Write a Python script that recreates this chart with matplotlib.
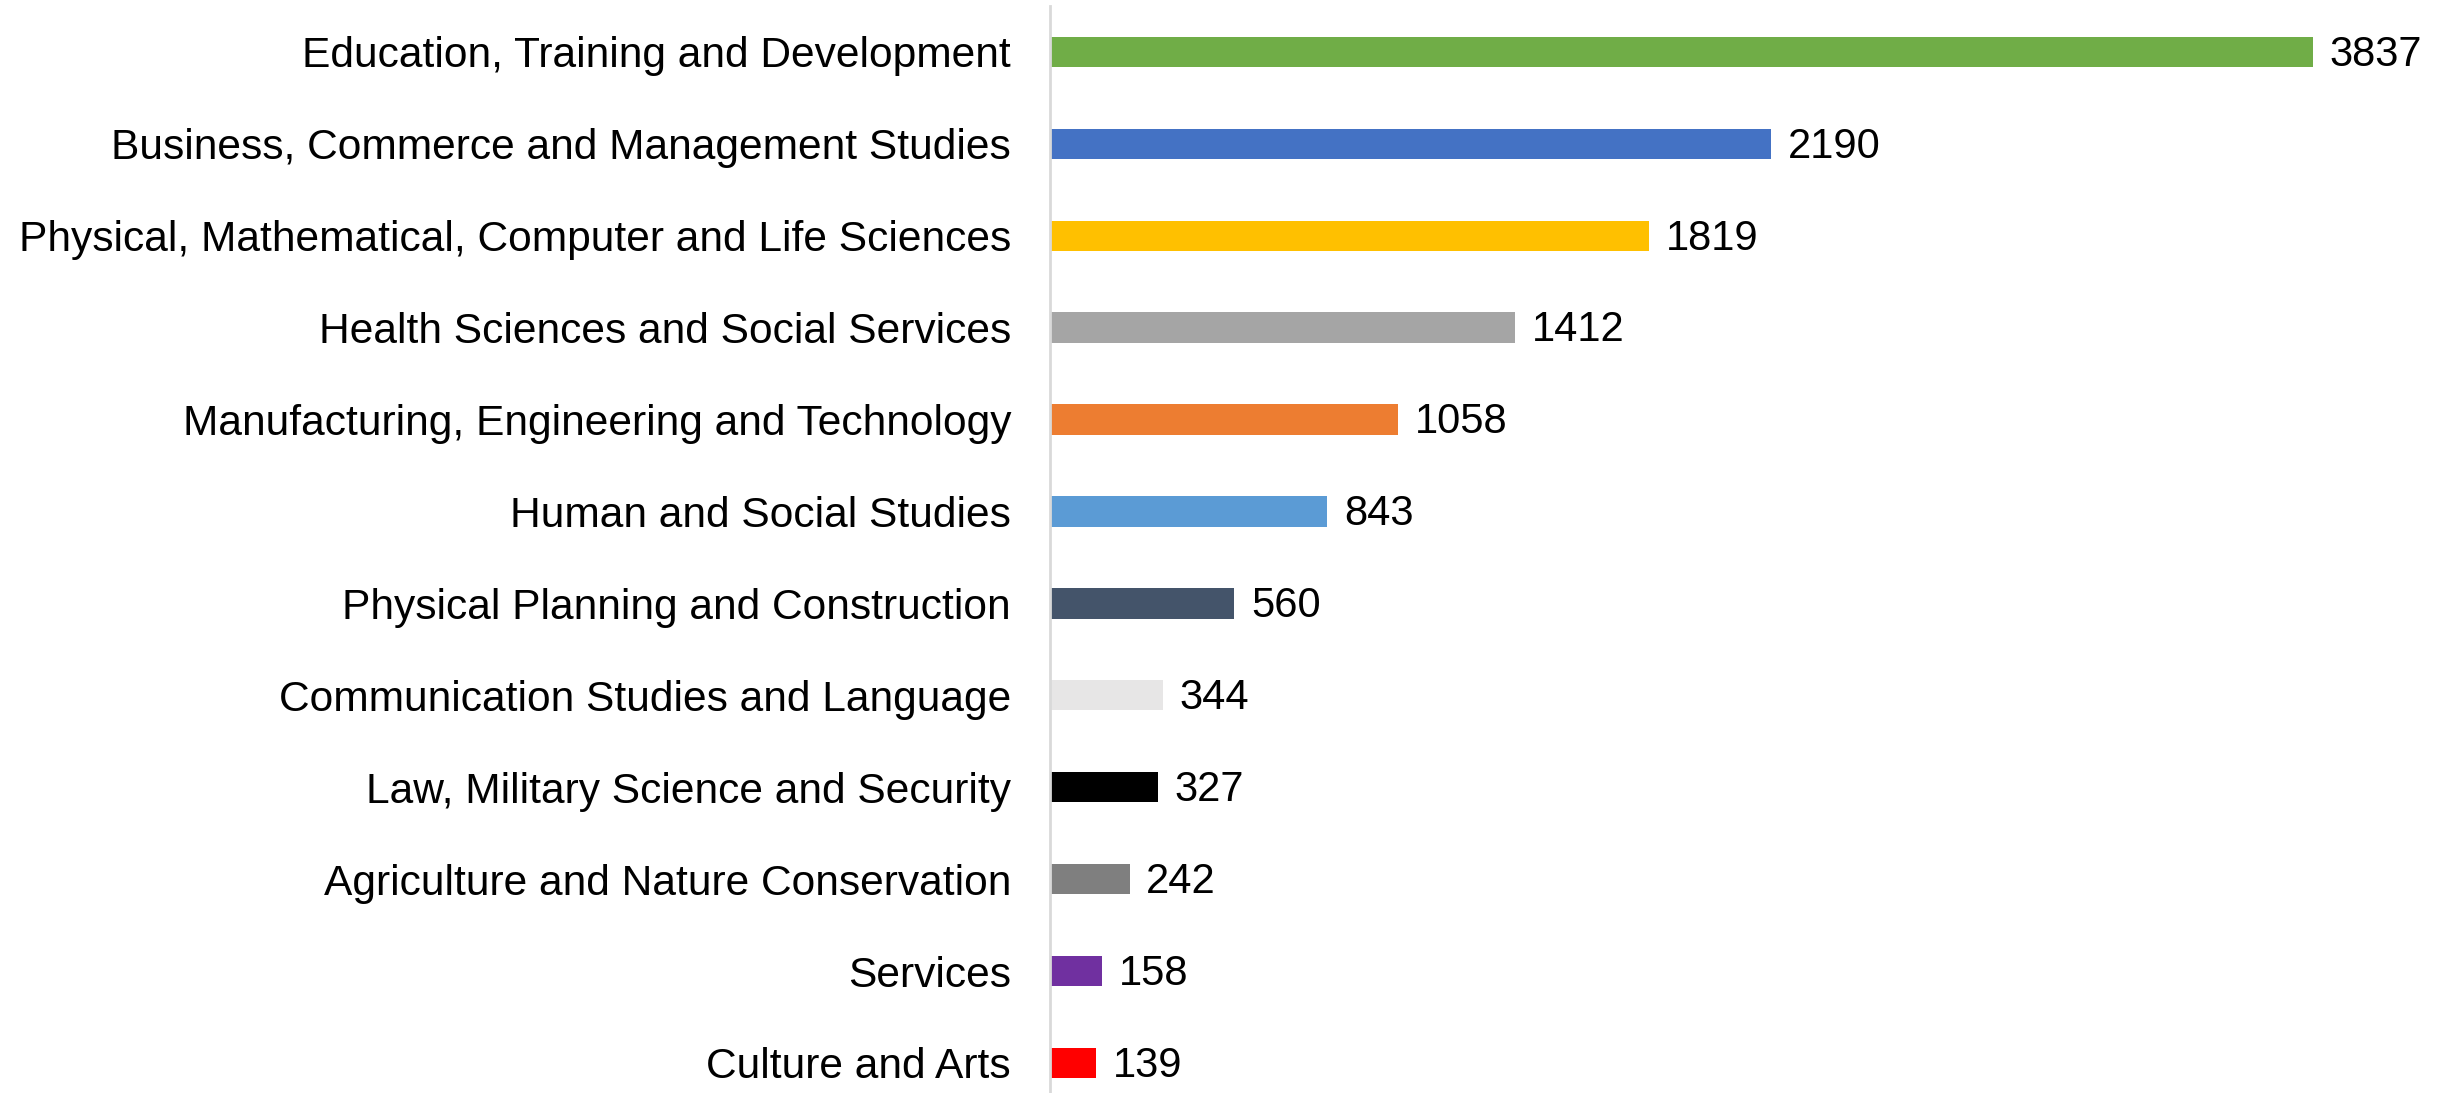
import matplotlib
matplotlib.use("Agg")
from matplotlib import pyplot as plt

categories = [
    "Education, Training and Development",
    "Business, Commerce and Management Studies",
    "Physical, Mathematical, Computer and Life Sciences",
    "Health Sciences and Social Services",
    "Manufacturing, Engineering and Technology",
    "Human and Social Studies",
    "Physical Planning and Construction",
    "Communication Studies and Language",
    "Law, Military Science and Security",
    "Agriculture and Nature Conservation",
    "Services",
    "Culture and Arts",
]
values = [3837, 2190, 1819, 1412, 1058, 843, 560, 344, 327, 242, 158, 139]
colors = ["#70AD47", "#4472C4", "#FFC000", "#A5A5A5", "#ED7D31", "#5B9BD5",
          "#44546A", "#E7E6E6", "#000000", "#7F7F7F", "#7030A0", "#FF0000"]

plt.rcParams['font.family'] = ['Liberation Sans', 'DejaVu Sans']

fig = plt.figure(figsize=(24.5, 10.93), dpi=100)
ax = fig.add_axes([1050 / 2450, -0.0146, 1400 / 2450, 1103 / 1093])

pos = list(range(len(categories)))
ax.barh(pos, values, height=0.33, color=colors)
ax.set_xlim(0, 4253)
ax.set_ylim(len(categories) - 0.5, -0.5)

for y, v in zip(pos, values):
    ax.annotate(str(v), (v, y), xytext=(12, -2), textcoords='offset points',
                va='center', ha='left', fontsize=30)

ax.set_yticks(pos)
ax.set_yticklabels(categories, fontsize=30.6)
ax.tick_params(axis='y', length=0, pad=28)
ax.set_xticks([])
for s in ['top', 'right', 'bottom']:
    ax.spines[s].set_visible(False)
ax.spines['left'].set_color('#D9D9D9')
ax.spines['left'].set_linewidth(2)

fig.savefig("out.png", dpi=100)
